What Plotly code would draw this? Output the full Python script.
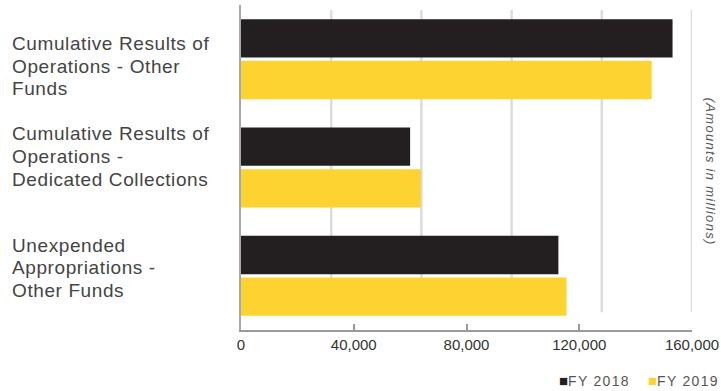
import plotly.graph_objects as go

# Net position components, amounts in millions
categories = [
    "Cumulative Results of<br>Operations - Other<br>Funds",
    "Cumulative Results of<br>Operations -<br>Dedicated Collections",
    "Unexpended<br>Appropriations -<br>Other Funds",
]
fy2018 = [153100, 60000, 112600]
fy2019 = [145700, 63800, 115500]
series_names = ["FY 2018", "FY 2019"]
tick_values = [0, 40000, 80000, 120000, 160000]
tick_labels = ["0", "40,000", "80,000", "120,000", "160,000"]
grid_values = [32000, 64000, 96000, 128000, 160000]

BLACK = "#231f20"
YELLOW = "#fdd332"
FONT = "Liberation Sans, Arial, Helvetica, sans-serif"


def spaced(text, px):
    return f"<span style='letter-spacing:{px}px'>{text}</span>"


fig = go.Figure()
for name, vals, color in zip(series_names, [fy2018, fy2019], [BLACK, YELLOW]):
    fig.add_trace(go.Bar(
        y=categories, x=vals, name=name, orientation="h",
        marker=dict(color=color, line=dict(width=0)),
        showlegend=False,
    ))

# light vertical guide lines behind the bars
for gv in grid_values:
    fig.add_shape(type="line", xref="x", yref="paper", x0=gv, x1=gv,
                  y0=0.055, y1=0.985, layer="below",
                  line=dict(color="#dcdcdc", width=2.5))

# category labels, one annotation per line, left aligned in the margin
label_shift = [-7, 11, 8]
line_step = 22.6
for cat, dy in zip(categories, label_shift):
    lines = cat.split("<br>")
    mid = (len(lines) - 1) / 2
    for k, ln in enumerate(lines):
        fig.add_annotation(text=spaced(ln, 0.6), xref="paper", yref="y", x=-0.512, y=cat,
                           xanchor="left", yanchor="middle", align="left",
                           yshift=dy - (k - mid) * line_step, showarrow=False,
                           font=dict(family=FONT, size=19, color="#444444"))

# units note along the right side
fig.add_annotation(text=spaced("<i>(Amounts in millions)</i>", 1.3),
                   xref="paper", yref="paper",
                   x=1.043, y=0.486, textangle=90, showarrow=False,
                   xanchor="center", yanchor="middle",
                   font=dict(family=FONT, size=13, color="#555555"))

# legend drawn as text swatches
legend_x = [0.7, 0.897]
for name, color, lx in zip(series_names, [BLACK, YELLOW], legend_x):
    fig.add_annotation(
        text=f"<span style='color:{color};font-size:15px'>■</span>" + spaced(name, 1.3),
        xref="paper", yref="paper", x=lx, y=-0.155, xanchor="left", yanchor="middle",
        showarrow=False, font=dict(family=FONT, size=14, color="#555555"))

fig.update_layout(
    width=721, height=391,
    margin=dict(l=241, r=29, t=5, b=61),
    paper_bgcolor="white", plot_bgcolor="white",
    barmode="group", bargap=0.23, bargroupgap=0.08,
    font=dict(family=FONT, color="#333333"),
)
fig.update_xaxes(
    range=[0, 160000], tickvals=tick_values, ticktext=tick_labels,
    showgrid=False, zeroline=False, showline=True, linecolor="#9a9a9a", linewidth=1.5,
    ticks="inside", ticklen=6, tickcolor="#9a9a9a", tickwidth=1.5,
    tickfont=dict(family=FONT, size=15, color="#333333"), automargin=False,
)
fig.update_yaxes(
    autorange="reversed", showticklabels=False, showgrid=False, zeroline=False,
    showline=True, linecolor="#a8a8a8", linewidth=1.5, ticks="",
)

fig.write_html("out.html")
